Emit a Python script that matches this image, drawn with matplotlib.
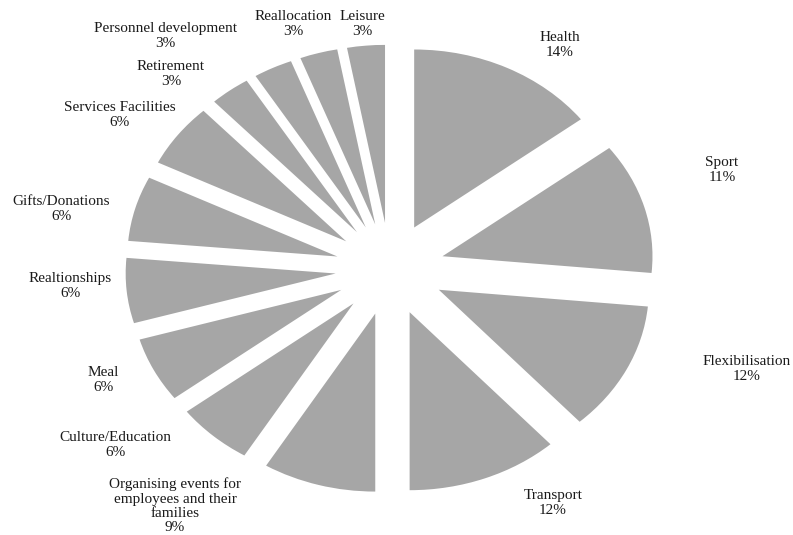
import matplotlib
matplotlib.use('Agg')
import matplotlib.pyplot as plt

# categories, printed percentages and slice sizes
categories = ['Health', 'Sport', 'Flexibilisation', 'Transport',
              'Organising events for\nemployees and their\nfamilies',
              'Culture/Education', 'Meal', 'Realtionships', 'Gifts/Donations',
              'Services Facilities', 'Retirement', 'Personnel development',
              'Reallocation', 'Leisure']
pct_labels = [14, 11, 12, 12, 9, 6, 6, 6, 6, 6, 3, 3, 3, 3]
shares = [14.6, 11.9, 11.8, 11.7, 8.7, 5.9, 5.9, 5.9, 5.9, 5.8, 3.1, 3.0, 2.9, 2.9]

# label centres in figure pixels (x from left, y from top)
label_px = [(560, 45), (722, 170), (747, 369), (553, 503), (175, 506),
            (115, 445), (103, 380), (70, 286), (61, 209), (120, 115),
            (171, 74), (165, 36), (293, 24), (362, 24)]

W, H = 793, 535
cx, cy = 390, 269      # pie centre in pixels
rx, ry = 210, 178      # pie radius in pixels (stretched sideways)

plt.rcParams['font.family'] = ['Liberation Serif', 'DejaVu Serif']

fig = plt.figure(figsize=(W / 100, H / 100), dpi=100)
ax = fig.add_axes([0, 0, 1, 1])

ax.pie(shares, startangle=90, counterclock=False,
       explode=[0.26] * len(shares), colors=['#a6a6a6'] * len(shares),
       wedgeprops=dict(linewidth=0))

ax.set_aspect('auto')
ax.set_xlim(-cx / rx, (W - cx) / rx)
ax.set_ylim((cy - H) / ry, cy / ry)
ax.axis('off')

for name, p, (px, py) in zip(categories, pct_labels, label_px):
    ax.text((px - cx) / rx, (cy - py) / ry, f'{name}\n{p}%',
            ha='center', va='center', multialignment='center',
            fontsize=11, linespacing=1.13, color='#1a1a1a')

fig.savefig('out.png', dpi=100)
